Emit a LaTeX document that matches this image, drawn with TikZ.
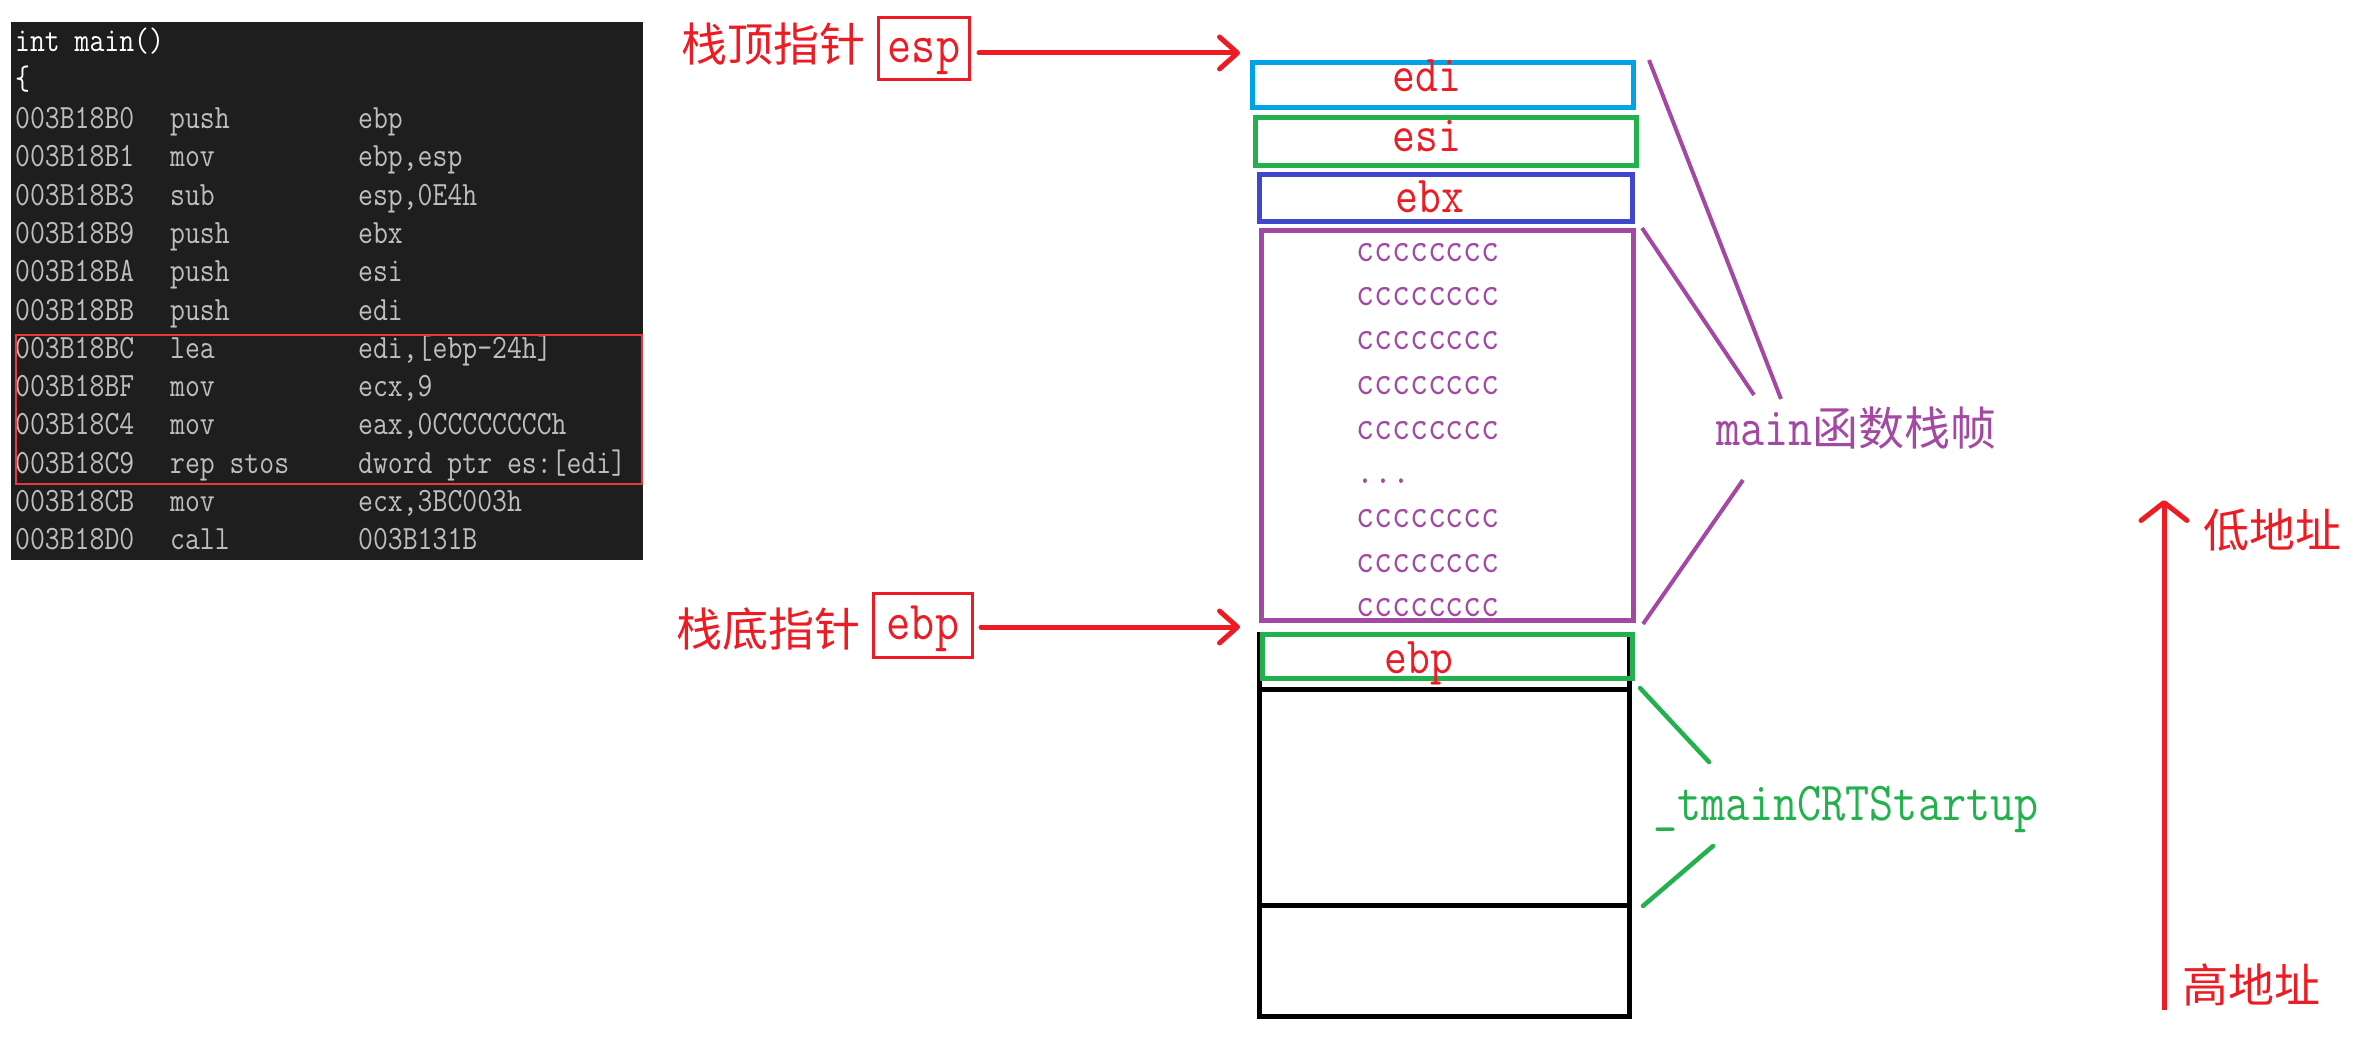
\documentclass[tikz,border=0pt]{standalone}
\usepackage{fontspec}
\usetikzlibrary{arrows.meta}
\newfontfamily\lmono[FakeStretch=0.85]{Latin Modern Mono}
\newfontfamily\cjk{Noto Sans CJK SC}
\definecolor{pred}{HTML}{ED1C24}
\definecolor{pgreen}{HTML}{22B14C}
\definecolor{pblue}{HTML}{3F48CC}
\definecolor{pcyan}{HTML}{00A2E8}
\definecolor{ppurple}{HTML}{A349A4}
\definecolor{codebg}{HTML}{1E1E1E}
\definecolor{codefg}{HTML}{BEBEBE}
\definecolor{codered}{HTML}{E8383D}
\begin{document}
\begin{tikzpicture}[x=1pt,y=-1pt,
  slot/.style={draw=#1, line width=5pt, inner sep=0pt, outer sep=0pt},
  ptrbox/.style={draw=pred, line width=3pt, inner sep=0pt, outer sep=0pt},
  regtxt/.style={text=pred, font=\lmono\fontsize{52}{52}\selectfont, inner sep=0pt, anchor=base},
  ptrtxt/.style={text=pred, font=\lmono\fontsize{55}{55}\selectfont, inner sep=0pt, anchor=base},
  cjklabel/.style={text=pred, font=\cjk\fontsize{46}{46}\selectfont, inner sep=0pt, anchor=base west},
  ctxt/.style={text=ppurple, font=\lmono\fontsize{41}{41}\selectfont, inner sep=0pt, anchor=base west},
  codeline/.style={text=codefg, font=\lmono\fontsize{34}{34}\selectfont, inner sep=0pt, anchor=base west},
  redarrow/.style={draw=pred, line width=5pt, line cap=round, -{Straight Barb[length=18pt,width=32pt,round]}},
  addrarrow/.style={draw=pred, line width=5pt, line cap=butt, -{Straight Barb[length=18pt,width=46pt,round]}},
  pline/.style={draw=ppurple, line width=4pt},
  gline/.style={draw=pgreen, line width=4.5pt, line cap=round}
]
\useasboundingbox (0,0) rectangle (2356,1040);

% ---- code panel ----
\node[fill=codebg, inner sep=0pt, outer sep=0pt, minimum width=632pt, minimum height=538pt, anchor=north west] (panel) at (11,22) {};
\node[codeline, text=white] (l0) at (15,52) {int main()};
\node[codeline, text=white] (l1) at (15,90) {\{};
\foreach \i/\a/\m/\o in {2/003B18B0/push/ebp, 3/003B18B1/mov/{ebp,esp}, 4/003B18B3/sub/{esp,0E4h},
  5/003B18B9/push/ebx, 6/003B18BA/push/esi, 7/003B18BB/push/edi, 8/003B18BC/lea/{edi,[ebp-24h]},
  9/003B18BF/mov/{ecx,9}, 10/003B18C4/mov/{eax,0CCCCCCCCh}, 11/003B18C9/rep stos/{dword ptr es:[edi]},
  12/003B18CB/mov/{ecx,3BC003h}, 13/003B18D0/call/003B131B}
  \node[codeline] (l\i) at (15,{52+38.3*\i}) {\makebox[155pt][l]{\a}\makebox[188pt][l]{\m}\o};
\node[draw=codered, line width=2pt, inner sep=0pt, outer sep=0pt, minimum width=626pt, minimum height=149pt] (hl) at (329,409.5) {};

% ---- pointer labels ----
\node[cjklabel] (toplbl) at (681,62) {栈顶指针};
\node[ptrbox, minimum width=91pt, minimum height=62pt] (espbox) at (924,48.5) {};
\node[ptrtxt] (esptxt) at (924,63) {esp};
\coordinate (esptip) at (1240,53);
\draw[redarrow] (979,53) coordinate (espstart) -- (esptip);

\node[cjklabel] (botlbl) at (676,646) {栈底指针};
\node[ptrbox, minimum width=99pt, minimum height=64pt] (ebpbox) at (923,625.5) {};
\node[ptrtxt] (ebptxt) at (923,639) {ebp};
\coordinate (ebptip) at (1240,627);
\draw[redarrow] (981,627) coordinate (ebpstart) -- (ebptip);

% ---- stack ----
\node[slot=pcyan, minimum width=381pt, minimum height=45pt] (edibox) at (1443,85) {};
\node[regtxt] (editxt) at (1427,92) {edi};
\node[slot=pgreen, minimum width=381pt, minimum height=48pt] (esibox) at (1446,141.5) {};
\node[regtxt] (esitxt) at (1427,152) {esi};
\node[slot=pblue, minimum width=373pt, minimum height=47pt] (ebxbox) at (1446,198) {};
\node[regtxt] (ebxtxt) at (1430,213) {ebx};
\node[slot=ppurple, minimum width=372pt, minimum height=390pt] (locbox) at (1447.5,425.5) {};
\foreach \i/\y in {1/262,2/306,3/350,4/395,5/439,6/527,7/572,8/616}
  \node[ctxt] (c\i) at (1356,\y) {cccccccc};
\node[ctxt] (dots) at (1356,483) {...};

\node[slot=black, minimum width=370pt, minimum height=382pt] (callerbox) at (1444.5,825.5) {};
\draw[line width=5pt] (callerbox.west |- 0,689) -- (callerbox.east |- 0,689);
\draw[line width=5pt] (callerbox.west |- 0,905) -- (callerbox.east |- 0,905);
\node[slot=pgreen, minimum width=370pt, minimum height=44pt] (savedebp) at (1447.5,656.5) {};
\node[regtxt] (savedtxt) at (1419,673) {ebp};

% ---- main frame brace lines ----
\node[inner sep=0pt, anchor=base west, text=ppurple] (mainlbl) at (1716,445)
  {{\lmono\fontsize{55}{55}\selectfont main}{\cjk\fontsize{46}{46}\selectfont 函数栈帧}};
\coordinate (m1a) at (1649,60);   \coordinate (m1b) at (1781,399);
\coordinate (m2a) at (1642,228);  \coordinate (m2b) at (1754,395);
\coordinate (m3a) at (1743,480);  \coordinate (m3b) at (1643,624);
\draw[pline] (m1a) -- (m1b);
\draw[pline] (m2a) -- (m2b);
\draw[pline] (m3a) -- (m3b);

% ---- _tmainCRTStartup ----
\node[inner sep=0pt, anchor=base west, text=pgreen, font=\lmono\fontsize{55}{55}\selectfont] (crtlbl) at (1653,820) {\_tmainCRTStartup};
\coordinate (g1a) at (1640,688);  \coordinate (g1b) at (1709,762);
\coordinate (g2a) at (1713,846);  \coordinate (g2b) at (1643,906);
\draw[gline] (g1a) -- (g1b);
\draw[gline] (g2a) -- (g2b);

% ---- address direction ----
\coordinate (hiaddr) at (2164,1010);
\coordinate (loaddr) at (2164,500);
\draw[addrarrow] (hiaddr) -- (loaddr);
\node[cjklabel] (lowlbl) at (2203,547) {低地址};
\node[cjklabel] (highlbl) at (2182,1002) {高地址};
\end{tikzpicture}
\end{document}
